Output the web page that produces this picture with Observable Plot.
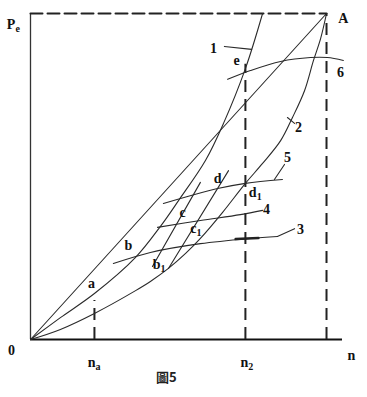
<!DOCTYPE html>
<html><head><meta charset="utf-8">
<script src="https://cdn.jsdelivr.net/npm/d3@7"></script>
<script src="https://cdn.jsdelivr.net/npm/@observablehq/plot@0.6"></script>
<style>html,body{margin:0;padding:0;background:#fff;}</style>
</head><body>
<div id="chart"></div>
<script>
// normalized speed n (A = 1) and power Pe (A = 1)
const lineOA_n = [0, 1];
const lineOA_p = [0, 1];
const curve1_n = [0, 0.101, 0.216, 0.355, 0.439, 0.5, 0.591, 0.652, 0.726, 0.784];
const curve1_p = [0, 0.067, 0.141, 0.252, 0.347, 0.426, 0.549, 0.663, 0.831, 1.0];
const curve2_n = [0, 0.101, 0.216, 0.355, 0.405, 0.466, 0.524, 0.574, 0.649, 0.726, 0.784, 0.845, 0.885, 0.926, 0.956, 0.980, 1.0];
const curve2_p = [0, 0.031, 0.080, 0.150, 0.178, 0.218, 0.264, 0.310, 0.390, 0.479, 0.540, 0.610, 0.681, 0.764, 0.856, 0.923, 1.0];
const seg1_n = [0.412, 0.574];
const seg1_p = [0.224, 0.482];
const seg2_n = [0.466, 0.669];
const seg2_p = [0.218, 0.518];
const line3_n = [0.280, 0.405, 0.574, 0.743, 0.834];
const line3_p = [0.233, 0.267, 0.294, 0.310, 0.316];
const line3bold_n = [0.693, 0.770];
const line3bold_p = [0.308, 0.311];
const line4_n = [0.429, 0.574, 0.709, 0.784];
const line4_p = [0.344, 0.365, 0.383, 0.396];
const line5_n = [0.449, 0.632, 0.726, 0.851];
const line5_p = [0.417, 0.463, 0.479, 0.491];
const line6_n = [0.666, 0.743, 0.845, 0.946, 1.003, 1.057];
const line6_p = [0.798, 0.825, 0.853, 0.865, 0.865, 0.856];
const leader1_n = [0.655, 0.747]; const leader1_p = [0.899, 0.890];
const leader2_n = [0.868, 0.892]; const leader2_p = [0.681, 0.663];
const leader3_n = [0.834, 0.892]; const leader3_p = [0.316, 0.340];
const leader5_n = [0.824, 0.858]; const leader5_p = [0.491, 0.537];
// dashed guide lines
const topDash_n = [0, 1]; const topDash_p = [1, 1];
const vDash_n = [0.216, 0.726, 1.0];
const vDash_top = [0.120, 0.844, 1.0];
// labels
const labelText = ["A", "1", "e", "6", "2", "5", "d", "4", "c", "3", "b", "a", "0", "n"];
const labelN = [1.057, 0.618, 0.696, 1.047, 0.905, 0.868, 0.632, 0.797, 0.514, 0.912, 0.331, 0.206, -0.064, 1.084];
const labelP = [0.985, 0.893, 0.856, 0.819, 0.650, 0.558, 0.494, 0.399, 0.390, 0.337, 0.288, 0.172, -0.034, -0.049];
const subMain = ["P", "b", "c", "d", "n", "n"];
const subText = ["e", "1", "1", "1", "a", "2"];
const subN = [-0.051, 0.439, 0.561, 0.764, 0.220, 0.736];
const subP = [0.966, 0.230, 0.340, 0.451, -0.071, -0.071];
const caption = "圖5";
const captionN = 0.459, captionP = -0.117;

const pts = (ns, ps) => ns.map((n, i) => ({n, p: ps[i]}));
const thin = {x: "n", y: "p", stroke: "#2a2a2a", strokeWidth: 1.1};
const smooth = {...thin, curve: "catmull-rom"};
const serif = "'Liberation Serif', 'DejaVu Serif', serif";

const labels = labelText.map((t, i) => ({t, n: labelN[i], p: labelP[i]}));
const subs = subText.map((t, i) => ({m: subMain[i], t, n: subN[i], p: subP[i]}));

const chart = Plot.plot({
  width: 367, height: 397,
  marginLeft: 30, marginRight: 25, marginTop: 13, marginBottom: 58,
  x: {domain: [0, 1.054], axis: null},
  y: {domain: [0, 1], axis: null},
  style: {background: "#fff", fontFamily: serif},
  marks: [
    Plot.ruleX([0], {y1: 0, y2: 1, stroke: "#333", strokeWidth: 1.3}),
    Plot.ruleY([0], {x1: 0, x2: 1.054, stroke: "#111", strokeWidth: 2}),
    Plot.line(pts(topDash_n, topDash_p), {x: "n", y: "p", stroke: "#222", strokeWidth: 2, strokeDasharray: "12,5"}),
    Plot.ruleX(vDash_n.map((n, i) => ({n, top: vDash_top[i]})), {x: "n", y1: 0, y2: "top", stroke: "#222", strokeWidth: 2, strokeDasharray: "12,7"}),
    Plot.line(pts(lineOA_n, lineOA_p), thin),
    Plot.line(pts(curve1_n, curve1_p), smooth),
    Plot.line(pts(curve2_n, curve2_p), smooth),
    Plot.line(pts(seg1_n, seg1_p), thin),
    Plot.line(pts(seg2_n, seg2_p), thin),
    Plot.line(pts(line3_n, line3_p), smooth),
    Plot.line(pts(line3bold_n, line3bold_p), {x: "n", y: "p", stroke: "#222", strokeWidth: 2.5}),
    Plot.line(pts(line4_n, line4_p), smooth),
    Plot.line(pts(line5_n, line5_p), smooth),
    Plot.line(pts(line6_n, line6_p), smooth),
    Plot.line(pts(leader1_n, leader1_p), thin),
    Plot.line(pts(leader2_n, leader2_p), thin),
    Plot.line(pts(leader3_n, leader3_p), thin),
    Plot.line(pts(leader5_n, leader5_p), thin),
    Plot.text(labels, {x: "n", y: "p", text: "t", fontSize: 14, fontWeight: "bold", fill: "#111", fontFamily: serif}),
    Plot.text(subs, {x: "n", y: "p", text: "m", fontSize: 14, fontWeight: "bold", fill: "#111", textAnchor: "end", fontFamily: serif}),
    Plot.text(subs, {x: "n", y: "p", text: "t", fontSize: 10, fontWeight: "bold", fill: "#111", textAnchor: "start", dy: 4, fontFamily: serif}),
    Plot.text([{t: caption, n: captionN, p: captionP}], {x: "n", y: "p", text: "t", fontSize: 13, fontWeight: "bold", fill: "#222", fontFamily: "'Noto Sans CJK TC', 'Liberation Serif'"})
  ]
});
document.getElementById("chart").appendChild(chart);
</script>
</body></html>
